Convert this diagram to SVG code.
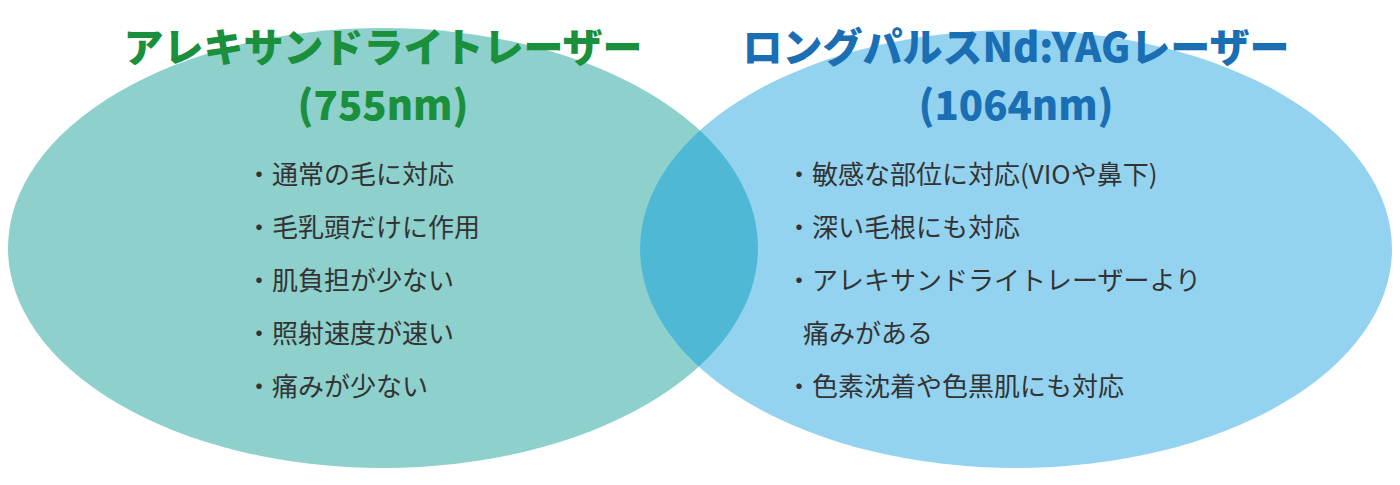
<svg xmlns="http://www.w3.org/2000/svg" width="1400" height="485" viewBox="0 0 1400 485">
<style>
.t{font-family:"Noto Sans CJK JP","Noto Sans",sans-serif;font-weight:900;font-size:40px;text-anchor:middle}
.b{font-family:"Noto Sans CJK JP","Noto Sans",sans-serif;font-size:26px;fill:#333}
</style>
<defs><clipPath id="cl"><ellipse cx="383" cy="248" rx="375" ry="220"/></clipPath></defs>
<g id="left"><ellipse cx="383" cy="248" rx="375" ry="220" fill="#8dd0cc"/></g>
<g id="right"><ellipse cx="1016" cy="249" rx="376" ry="219" fill="#94d3f0"/>
<ellipse cx="1016" cy="249" rx="376" ry="219" fill="#4fb9d5" clip-path="url(#cl)"/></g>
<g id="left-text">
<text class="t" x="383" y="62" fill="#1a8f3c">アレキサンドライトレーザー</text>
<text class="t" x="383" y="120" fill="#1a8f3c">(755nm)</text>
<text class="b" x="246" y="184">・通常の毛に対応</text>
<text class="b" x="246" y="237">・毛乳頭だけに作用</text>
<text class="b" x="246" y="290">・肌負担が少ない</text>
<text class="b" x="246" y="343">・照射速度が速い</text>
<text class="b" x="246" y="396">・痛みが少ない</text>
</g>
<g id="right-text">
<text class="t" x="1016" y="62" fill="#1a6fb4">ロングパルスNd:YAGレーザー</text>
<text class="t" x="1016" y="120" fill="#1a6fb4">(1064nm)</text>
<text class="b" x="786" y="184">・敏感な部位に対応(VIOや鼻下)</text>
<text class="b" x="786" y="237">・深い毛根にも対応</text>
<text class="b" x="786" y="290">・アレキサンドライトレーザーより</text>
<text class="b" x="803" y="343">痛みがある</text>
<text class="b" x="786" y="396">・色素沈着や色黒肌にも対応</text>
</g>
<g id="connectors"/>
</svg>
